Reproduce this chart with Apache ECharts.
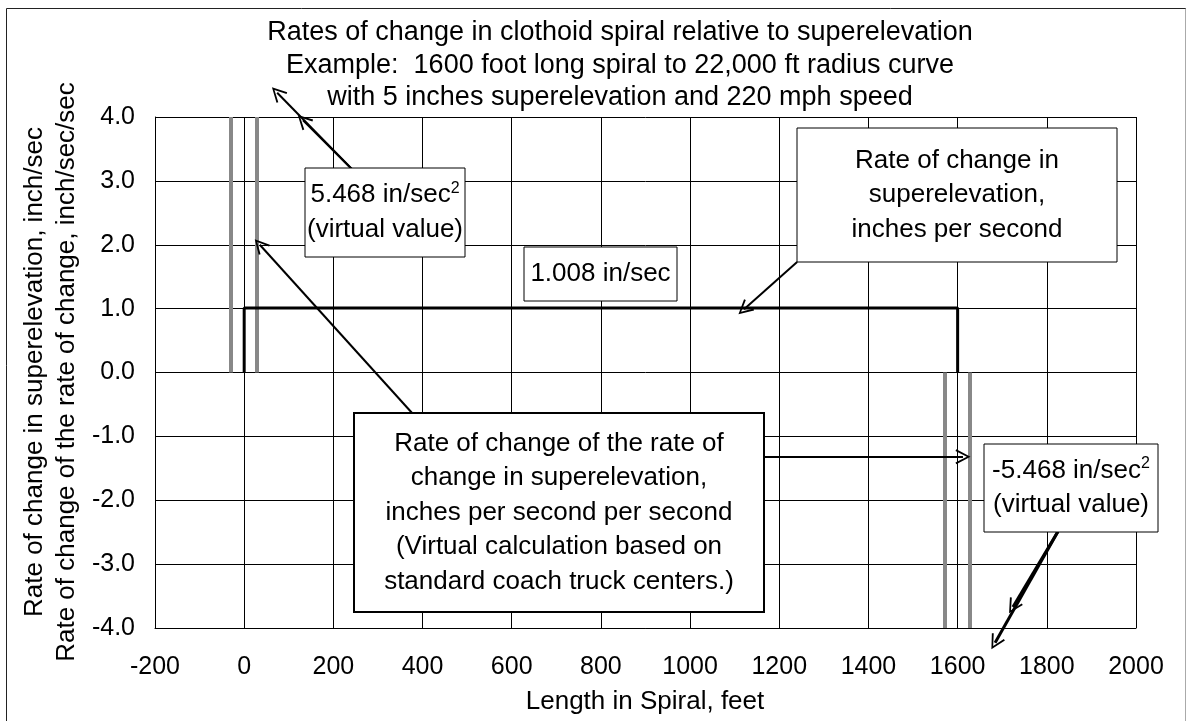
<!DOCTYPE html>
<html>
<head>
<meta charset="utf-8">
<script src="https://cdn.jsdelivr.net/npm/echarts@6/dist/echarts.min.js"></script>
<style>
  html, body { margin: 0; padding: 0; background: #fff; }
  #chart { width: 1188px; height: 721px; }
</style>
</head>
<body>
<div id="chart"></div>
<script>
// ---- data ----
var xTicks = [-200, 0, 200, 400, 600, 800, 1000, 1200, 1400, 1600, 1800, 2000];
var yTicks = [-4, -3, -2, -1, 0, 1, 2, 3, 4];

// rate of change in superelevation (in/sec), step over the spiral
var rateX = [0, 0, 1600, 1600];
var rateY = [0, 1.008, 1.008, 0];

// virtual rate of change of rate (in/sec^2) spikes at spiral ends
var spikeX = [-30, 28, 1570, 1628];
var spikeTop = [4, 4, -4, -4];

// annotation arrows, data coords [fromX, fromY, toX, toY]
var arrows = [
  [248, 3.14, 74, 4.38],
  [248, 3.14, 132, 3.95],
  [376, -0.63, 35, 2.0],
  [1166, -1.32, 1612, -1.32],
  [1240, 1.73, 1121, 0.99],
  [1825, -2.49, 1684, -4.23],
  [1825, -2.49, 1724, -3.67]
];

var FONT = '"Liberation Sans", Arial, sans-serif';
var FS = 26;

var chart = echarts.init(document.getElementById('chart'));

var ratePts = rateX.map(function (x, i) { return [x, rateY[i]]; });
var spikeLines = spikeX.map(function (x, i) {
  return { coords: [[x, 0], [x, spikeTop[i]]] };
});
var arrowHead = 'path://M0,0 L7,14 L5.4,14.8 L0,3.6 L-5.4,14.8 L-7,14 Z';
var arrowLines = arrows.map(function (a, i) {
  return {
    coords: [[a[0], a[1]], [a[2], a[3]]],
    lineStyle: { width: i >= 5 ? 3 : 2 }
  };
});

function txt(x, y, t, size, rot) {
  return {
    type: 'text', z: 101, x: x, y: y, rotation: rot || 0,
    style: {
      text: t, fill: '#000', font: (size || FS) + 'px ' + FONT,
      align: 'center', verticalAlign: 'middle',
      rich: { sup: { fontSize: 16, padding: [0, 0, 14, 0], fontFamily: FONT } }
    }
  };
}

function box(x, y, w, h, lines, lw) {
  var els = [{
    type: 'rect', z: 100,
    shape: { x: x, y: y, width: w, height: h },
    style: { fill: '#fff', stroke: '#000', lineWidth: lw || 1 }
  }];
  var lh = 34.5;
  var cx = x + w / 2;
  var top = y + h / 2 - (lines.length - 1) * lh / 2;
  lines.forEach(function (t, i) {
    els.push(txt(cx, top + i * lh, t));
  });
  return els;
}

var graphics = [];
graphics.push({
  type: 'rect', z: 0, silent: true,
  shape: { x: 6.5, y: 8.5, width: 1179, height: 730 },
  style: { fill: 'none', stroke: '#222', lineWidth: 1 }
});
graphics.push({
  type: 'line', z: 1,
  shape: { x1: 1185.5, y1: 9, x2: 1185.5, y2: 721 },
  style: { stroke: '#aaa', lineWidth: 1 }
});
var titleLines = [
  'Rates of change in clothoid spiral relative to superelevation',
  'Example:  1600 foot long spiral to 22,000 ft radius curve',
  'with 5 inches superelevation and 220 mph speed'
];
titleLines.forEach(function (t, i) {
  graphics.push(txt(620, 33 + i * 32.5, t, 27));
});
graphics.push(txt(35, 372, 'Rate of change in superelevation, inch/sec', 26, Math.PI / 2));
graphics.push(txt(67, 372, 'Rate of change of the rate of change, inch/sec/sec', 26, Math.PI / 2));
graphics.push(txt(645, 702, 'Length in Spiral, feet', 26));

graphics = graphics
  .concat(box(305, 168, 160, 89, ['5.468 in/sec{sup|2}', '(virtual value)']))
  .concat(box(524, 247, 153, 54, ['1.008 in/sec']))
  .concat(box(797, 128, 320, 134, ['Rate of change in', 'superelevation,', 'inches per second']))
  .concat(box(354, 413, 410, 199, ['Rate of change of the rate of', 'change in superelevation,', 'inches per second per second', '(Virtual calculation based on', 'standard coach truck centers.)'], 2))
  .concat(box(984, 444, 174, 88, ['-5.468 in/sec{sup|2}', '(virtual value)']));

var option = {
  animation: false,
  backgroundColor: '#fff',
  grid: { left: 155, top: 117, width: 981, height: 511, show: false },
  xAxis: {
    type: 'value', min: xTicks[0], max: xTicks[xTicks.length - 1], interval: 200,
    axisLine: { show: true, onZero: false, lineStyle: { color: '#000', width: 1 } },
    axisTick: { show: false },
    splitLine: { show: true, lineStyle: { color: '#000', width: 1 } },
    axisLabel: { color: '#000', fontSize: 25, fontFamily: FONT, margin: 27,
      formatter: function (v) { return String(v); } }
  },
  yAxis: {
    type: 'value', min: yTicks[0], max: yTicks[yTicks.length - 1], interval: 1,
    axisLine: { show: true, onZero: false, lineStyle: { color: '#000', width: 1 } },
    axisTick: { show: false },
    splitLine: { show: true, lineStyle: { color: '#000', width: 1 } },
    axisLabel: { color: '#000', fontSize: 25, fontFamily: FONT, margin: 20,
      formatter: function (v) { return v.toFixed(1); } }
  },
  series: [
    {
      type: 'lines', coordinateSystem: 'cartesian2d', z: 3, clip: false,
      lineStyle: { color: '#888', width: 4, opacity: 1 },
      data: spikeLines
    },
    {
      type: 'line', z: 4, data: ratePts, symbol: 'none',
      lineStyle: { color: '#000', width: 3 }
    },
    {
      type: 'lines', coordinateSystem: 'cartesian2d', z: 5, clip: false,
      symbol: ['none', arrowHead], symbolSize: [1, 15],
      lineStyle: { color: '#000', width: 2, opacity: 1 },
      itemStyle: { color: '#000' },
      data: arrowLines
    }
  ],
  graphic: graphics
};
chart.setOption(option);
</script>
</body>
</html>
